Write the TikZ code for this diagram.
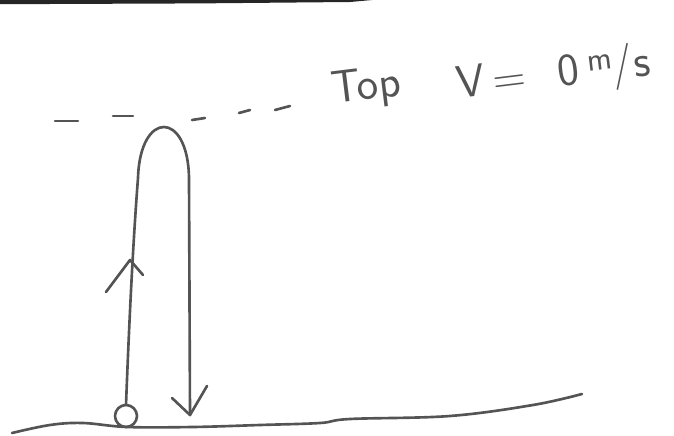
\documentclass[tikz,border=0pt]{standalone}
\usepackage{tikz}
\usetikzlibrary{arrows.meta}
\usepackage{xcolor}
\definecolor{pencil}{gray}{0.33}

\begin{document}
\begin{tikzpicture}[x=0.02cm,y=-0.02cm,line cap=round,line join=round,
  pen/.style={pencil,line width=1.5pt},
  hand/.style={pencil,font=\sffamily\fontsize{26}{26}\selectfont,inner sep=0pt,rotate=7}]
\useasboundingbox (0,0) rectangle (674,436);
\fill[black!85] (0,0) -- (372,0) -- (350,2) -- (200,3.4) -- (0,4.2) -- cycle;
% dashed level of the top
\draw[pen] (55,121) -- (78,121);
\draw[pen] (113,116) -- (133,116);
\draw[pen] (192,120) -- (205,118);
\draw[pen] (239,113) -- (250,110);
\draw[pen] (275,110) -- (290,106);
\node[hand,anchor=base west] (top) at (333,104) {Top};
\node[hand,anchor=base west] (speed) at (458,99) {V\,=\hspace{0.7em}0\hspace{0.2em}\raisebox{0.6ex}{\fontsize{19}{19}\selectfont m}\hspace{-0.02em}/\hspace{0.02em}s};
% path of the ball
\coordinate (ball) at (126,416);
\coordinate (apex) at (163,121);
\coordinate (land) at (190,415);
\draw[pen] (126,405) .. controls (130,300) and (134,230) .. (138,178) .. controls (140,110) and (188,110) .. (189,178) -- (land);
\draw[pen] (106,292) -- (130,260) -- (143,275);
\draw[pen] (172,398) -- (land) -- (207,386);
\draw[pen] (ball) circle (11);
% ground
\draw[pen] plot[smooth,tension=0.6] coordinates {(12,433) (50,425) (83,423) (127,427) (193,427) (260,425) (320,423) (350,419) (450,416) (533,405) (582,394)};
\end{tikzpicture}
\end{document}
